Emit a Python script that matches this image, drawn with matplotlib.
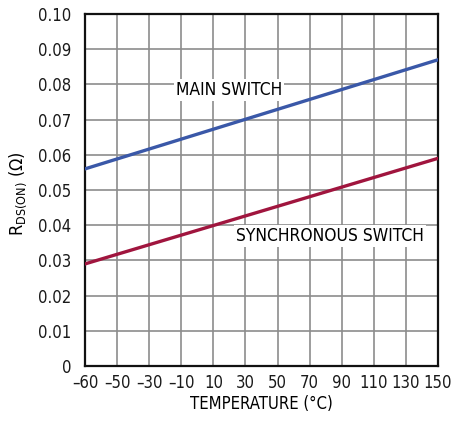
import matplotlib
matplotlib.use("Agg")
import matplotlib.pyplot as plt
import numpy as np

plt.rcParams['font.family'] = ['DejaVu Sans']
plt.rcParams['font.stretch'] = 'condensed'
plt.rcParams['mathtext.fontset'] = 'dejavusans'

# x axis ticks are equally spaced in the source chart
temp_labels = ["\u201360", "\u201350", "\u201330", "\u201310", "10", "30", "50", "70", "90", "110", "130", "150"]
tick_pos = np.arange(len(temp_labels))

# line end points (straight lines), read at first and last tick
main_x = [0, 11]
main_r = [0.056, 0.087]
sync_x = [0, 11]
sync_r = [0.029, 0.059]

y_ticks = [0, 0.01, 0.02, 0.03, 0.04, 0.05, 0.06, 0.07, 0.08, 0.09, 0.10]
y_labels = ["0"] + [f"{v:.2f}" for v in y_ticks[1:]]

fig = plt.figure(figsize=(4.54, 4.21), dpi=100)
ax = fig.add_axes([85/454, 1 - 366/421, 353/454, 352/421])

ax.set_xlim(0, 11)
ax.set_ylim(0, 0.10)
ax.set_xticks(tick_pos)
ax.set_xticklabels(temp_labels)
ax.set_yticks(y_ticks)
ax.set_yticklabels(y_labels)
ax.tick_params(length=0, labelsize=12, colors='#1a1a1a')
ax.tick_params(axis='y', pad=10)
ax.tick_params(axis='x', pad=6)
ax.grid(True, color='#8c8c8c', linewidth=1.2)
for s in ax.spines.values():
    s.set_linewidth(1.6)
    s.set_color('#111111')

ax.plot(main_x, main_r, color='#3a58a8', linewidth=2.4, zorder=3)
ax.plot(sync_x, sync_r, color='#a0153e', linewidth=2.4, zorder=3)

ax.text(2.84, 0.0785, "MAIN SWITCH", fontsize=12.5, va='center', ha='left',
        bbox=dict(facecolor='white', edgecolor='none', pad=1.5), zorder=4)
ax.text(4.70, 0.0370, "SYNCHRONOUS SWITCH", fontsize=12.5, va='center', ha='left',
        bbox=dict(facecolor='white', edgecolor='none', pad=1.5), zorder=4)

ax.set_xlabel("TEMPERATURE (\u00b0C)", fontsize=12, labelpad=2)
ax.set_ylabel("R$_{\\mathregular{DS(ON)}}$ (\u03a9)", fontsize=13)
ax.yaxis.set_label_coords(-0.158, 0.49)

fig.savefig("out.png", dpi=100)
